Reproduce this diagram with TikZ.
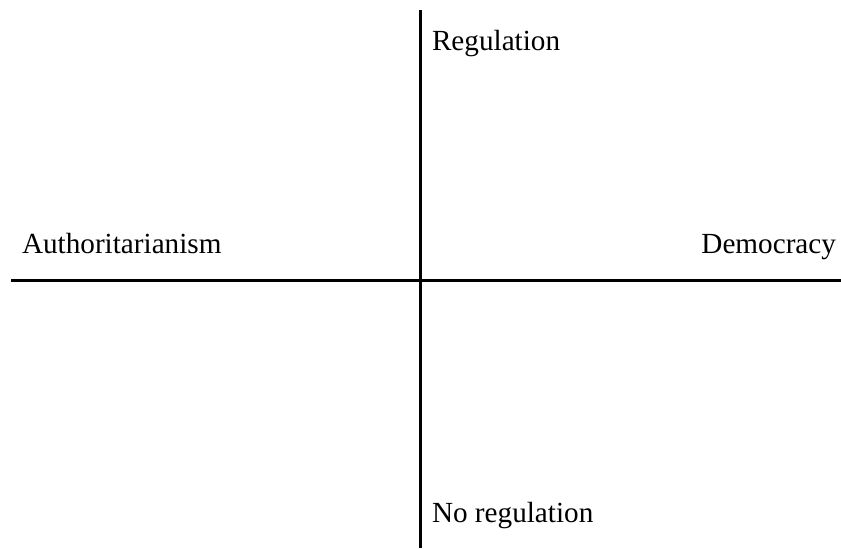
\documentclass[tikz,border=0pt]{standalone}
\usepackage{fontspec}
\setmainfont{Liberation Serif}
\usetikzlibrary{positioning}

\begin{document}
\begin{tikzpicture}[
  x=0.5pt, y=-0.5pt,
  font=\fontsize{14.6}{17}\selectfont,
  axis/.style={draw=black, line width=1.5pt},
  pole/.style={inner sep=0pt, outer sep=0pt}
]
\useasboundingbox (0, 0) rectangle (841, 548);

\coordinate (west) at (11, 280);
\coordinate (east) at (841, 280);
\coordinate (north) at (420, 10);
\coordinate (south) at (420, 548);

\draw[axis] (west) -- (east);
\draw[axis] (north) -- (south);

\node[pole, anchor=base west] (reg) at (432, 50) {Regulation};
\node[pole, anchor=base west] (noreg) at (432, 522) {No regulation};
\node[pole, anchor=base west] (auth) at (22, 253) {Authoritarianism};
\node[pole, anchor=base east] (dem) at (836, 253) {Democracy};

\end{tikzpicture}
\end{document}
